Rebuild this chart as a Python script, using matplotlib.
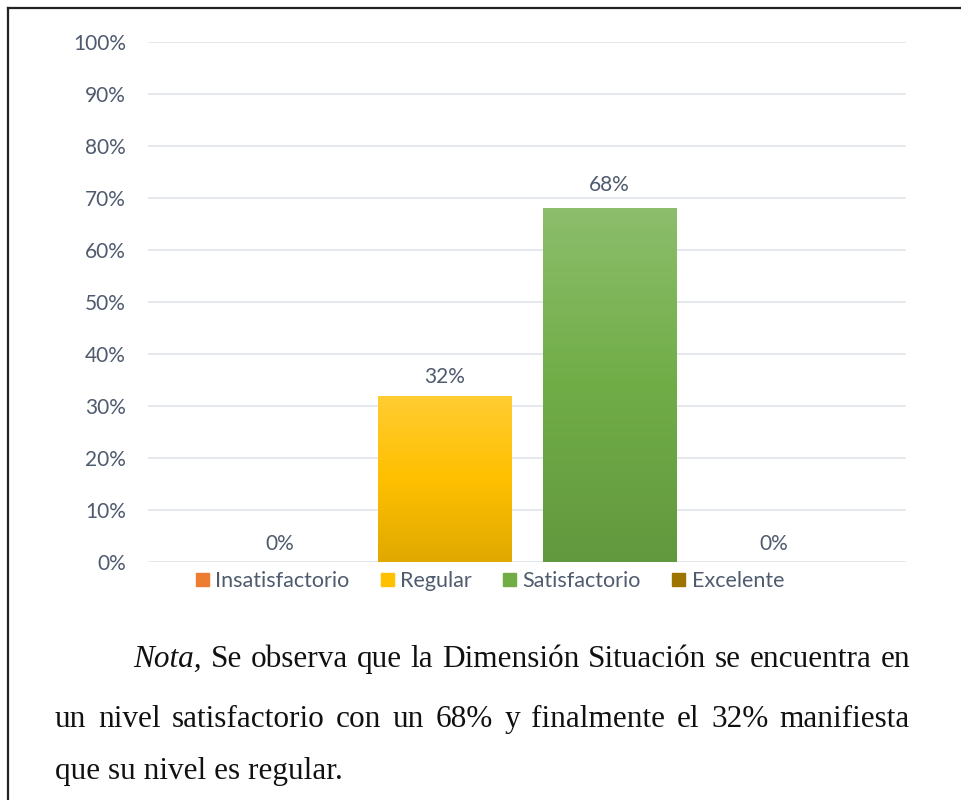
"""Bar chart: Dimensión Situación, with the caption note below."""

import numpy as np
import matplotlib
matplotlib.use("Agg")
import matplotlib.pyplot as plt
import matplotlib.colors as mcolors
from matplotlib.lines import Line2D

SERIES = ["Insatisfactorio", "Regular", "Satisfactorio", "Excelente"]
VALUES = [0, 32, 68, 0]
COLORS = ["#ED7D31", "#FFC000", "#70AD47", "#9E7400"]
YTICKS = [0, 10, 20, 30, 40, 50, 60, 70, 80, 90, 100]

CAPTION_1 = ["Se", "observa", "que", "la", "Dimensión", "Situación", "se", "encuentra", "en"]
CAPTION_2 = ["un", "nivel", "satisfactorio", "con", "un", "68%", "y", "finalmente", "el", "32%", "manifiesta"]
CAPTION_3 = "que su nivel es regular."

TEXT_C = "#4F5B6E"
GRID_C = "#E3E6EC"
SANS = "Lato"
SANS_SIZE = 15
SERIF_SIZE = 22.5
W, H = 961, 800


def gradient(base):
    # lighter at top, darker at bottom, like the office gradient fill
    r, g, b = mcolors.to_rgb(base)
    top = [c + (1 - c) * 0.2 for c in (r, g, b)]
    bot = [c * 0.88 for c in (r, g, b)]
    return mcolors.LinearSegmentedColormap.from_list("g", [bot, (r, g, b), top])


def justify(fig, renderer, words, x0, x1, y, first=None):
    """Place words so they fill x0..x1 (pixel coords)."""
    kw = dict(fontfamily="Liberation Serif", fontsize=SERIF_SIZE, color="#111111", va="baseline")
    items = []
    if first is not None:
        items.append((first, dict(kw, fontstyle="italic")))
    items += [(w, kw) for w in words]
    texts = [fig.text(0, 0, s, **k) for s, k in items]
    widths = [t.get_window_extent(renderer).width for t in texts]
    gap = (x1 - x0 - sum(widths)) / (len(texts) - 1)
    x = x0
    for t, w in zip(texts, widths):
        t.set_position((x / W, 1 - y / H))
        x += w + gap


def main():
    fig = plt.figure(figsize=(W / 100, H / 100), dpi=100)
    ax = fig.add_axes([148 / W, 1 - 562 / H, (906 - 148) / W, (562 - 42) / H])

    x = np.arange(len(SERIES))
    bars = ax.bar(x, VALUES, width=0.81, color=COLORS, label=SERIES, zorder=2)
    for rect, c, v in zip(bars, COLORS, VALUES):
        if v > 0:
            rect.set_facecolor("none")
            xs, w = rect.get_x(), rect.get_width()
            im = ax.imshow(np.linspace(0, 1, 256).reshape(-1, 1), cmap=gradient(c),
                           extent=[xs, xs + w, 0, v], origin="lower", aspect="auto", zorder=2)
            im.set_clip_path(rect)
        ax.annotate(f"{v}%", (rect.get_x() + rect.get_width() / 2, v),
                    xytext=(0, 6 if v < 50 else 10), textcoords="offset points",
                    ha="center", va="bottom", fontsize=SANS_SIZE, fontfamily=SANS, color=TEXT_C)

    ax.set_xlim(1.5 - 758 / 2 / 164.5, 1.5 + 758 / 2 / 164.5)
    ax.set_ylim(0, 100)
    ax.set_yticks(YTICKS)
    ax.set_yticklabels([f"{t}%" for t in YTICKS])
    ax.set_xticks([])
    ax.tick_params(axis="y", length=0, pad=16, labelsize=SANS_SIZE, labelcolor=TEXT_C)
    for lab in ax.get_yticklabels():
        lab.set_fontfamily(SANS)
    ax.grid(axis="y", color=GRID_C, lw=1.3, zorder=0)
    ax.set_axisbelow(True)
    for s in ax.spines.values():
        s.set_visible(False)

    handles = [plt.Rectangle((0, 0), 1, 1, color=c) for c in COLORS]
    fig.legend(handles, SERIES, loc="center", bbox_to_anchor=(490 / W, 1 - 581 / H), ncol=4,
               frameon=False, handlelength=0.6, handleheight=0.6, handletextpad=0.3,
               columnspacing=1.45, prop={"family": SANS, "size": 15.5}, labelcolor=TEXT_C)

    # page border (left and top only)
    fig.add_artist(Line2D([8 / W, 8 / W], [0, 1 - 8 / H], color="#222222", lw=1.6))
    fig.add_artist(Line2D([8 / W, 1], [1 - 8 / H, 1 - 8 / H], color="#222222", lw=1.6))

    renderer = fig.canvas.get_renderer()
    justify(fig, renderer, CAPTION_1, 133, 910, 667, first="Nota,")
    justify(fig, renderer, CAPTION_2, 55, 910, 727)
    fig.text(55 / W, 1 - 779 / H, CAPTION_3, fontfamily="Liberation Serif", fontsize=SERIF_SIZE,
             color="#111111", va="baseline")

    fig.savefig("out.png", dpi=100)
    plt.close(fig)


if __name__ == "__main__":
    main()
